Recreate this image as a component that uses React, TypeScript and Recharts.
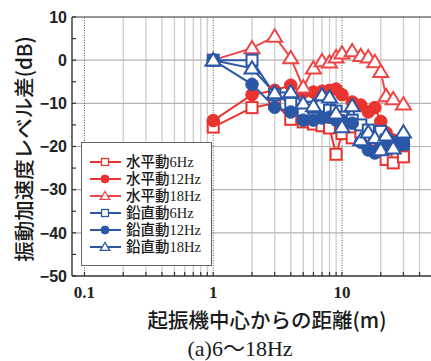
import { Legend, Line, LineChart, ReferenceLine, XAxis, YAxis } from "recharts";

// distance from the exciter centre (m)
const distances = [1, 2, 3, 4, 5, 6, 7, 8, 9, 10, 12, 14, 16, 18, 20, 22, 25, 30];

// level difference (dB), horizontal excitation
const horiz6 = [-15.5, -11, -10, -13.7, -14.3, -14.8, -15.2, -15.7, -21.8, -17, -18, -16.7, -17.5, -18.5, -20.5, -23, -23.8, -22.4];
const horiz12 = [-14, -8, -7, -5.8, -7.5, -7.4, -7.2, -7, -6.7, -8, -9.7, -10.4, -12, -11, -14.2, -16.8, -18.5, -19.5];
const horiz18 = [0, 2.8, 5.5, 0.5, -6.3, -1.9, -0.2, -0.5, 0.7, 1.6, 2.1, 1, 0.7, -0.4, -2.7, -8.3, -9, -10.2];

// level difference (dB), vertical excitation
const vert6 = [0, 0, -8, -10, -11.6, -10.9, -10.6, -11.6, -11.8, -13.2, -13.9, -15, -16.2, -17.8, -16.5, -18.5, -19, -19.5];
const vert12 = [0, -5.6, -10.9, -12, -13.9, -13.9, -13.4, -13.2, -13.9, -14, -14.6, -19, -20.8, -21.5, -20, -20, -19.2, -19.5];
const vert18 = [0, -1.9, -7.6, -7.4, -10, -10.6, -8.1, -8.6, -12.3, -15.5, -10.6, -18.5, -16.7, -18, -20.8, -17.4, -20.4, -16.7];

const yTicks = [-50, -45, -40, -35, -30, -25, -20, -15, -10, -5, 0, 5, 10];
const yGrid = [-40, -30, -20, -10, 0];
const xDecades = [0.1, 1, 10];
const xMinor = [0.2, 0.3, 0.4, 0.5, 0.6, 0.7, 0.8, 0.9, 2, 3, 4, 5, 6, 7, 8, 9, 20, 30, 40];

const RED = "#e8332f";
const BLUE = "#2b58a6";

const WIDTH = 440;
const HEIGHT = 361;
const PLOT_LEFT = 72;
const PLOT_TOP = 17;
const PLOT_BOTTOM = 276;

type Shape = "square" | "circle" | "triangle";

const series: { name: string; color: string; shape: Shape; values: number[] }[] = [
  { name: "水平動6Hz", color: RED, shape: "square", values: horiz6 },
  { name: "水平動12Hz", color: RED, shape: "circle", values: horiz12 },
  { name: "水平動18Hz", color: "#ee4646", shape: "triangle", values: horiz18 },
  { name: "鉛直動6Hz", color: BLUE, shape: "square", values: vert6 },
  { name: "鉛直動12Hz", color: BLUE, shape: "circle", values: vert12 },
  { name: "鉛直動18Hz", color: BLUE, shape: "triangle", values: vert18 }
];

function Marker({ cx, cy, shape, color, size }: { cx: number; cy: number; shape: Shape; color: string; size: number }) {
  if (shape === "circle") {
    return <circle cx={cx} cy={cy} r={size * 0.57} fill={color} stroke={color} strokeWidth={1} />;
  }
  if (shape === "square") {
    const h = size * 0.5;
    return <rect x={cx - h} y={cy - h} width={h * 2} height={h * 2} fill="#fff" stroke={color} strokeWidth={size > 8 ? 2 : 1.3} />;
  }
  const w = size * 0.68;
  return (
    <path
      d={`M${cx},${cy - w * 0.95} L${cx + w},${cy + w * 0.7} L${cx - w},${cy + w * 0.7} Z`}
      fill="#fff"
      stroke={color}
      strokeWidth={size > 8 ? 2 : 1.3}
      strokeLinejoin="miter"
    />
  );
}

function YTick({ y, payload }: any) {
  const v = payload.value as number;
  const major = v % 10 === 0;
  return (
    <g>
      <line x1={PLOT_LEFT} x2={PLOT_LEFT + 4} y1={y} y2={y} stroke="#333" strokeWidth={1.2} />
      {major && (
        <text
          x={PLOT_LEFT - 5}
          y={y}
          dy="0.36em"
          textAnchor="end"
          fontFamily="'Liberation Sans Narrow', 'Liberation Sans', sans-serif"
          fontWeight="bold"
          fontSize={16}
          fill="#222"
        >
          {v < 0 ? `−${Math.abs(v)}` : v}
        </text>
      )}
    </g>
  );
}

function XTick({ x, payload }: any) {
  const v = payload.value as number;
  const decade = xDecades.includes(v);
  return (
    <g>
      <line x1={x} x2={x} y1={PLOT_BOTTOM} y2={PLOT_BOTTOM - 4} stroke="#333" strokeWidth={1.2} />
      {decade && (
        <text
          x={x}
          y={PLOT_BOTTOM + 16}
          dy="0.36em"
          textAnchor="middle"
          fontFamily="'Liberation Serif', serif"
          fontWeight="bold"
          fontSize={17}
          fill="#222"
        >
          {v}
        </text>
      )}
    </g>
  );
}

// legend drawn in SVG so each row keeps to its own 17px band
function LegendBox() {
  return (
    <svg width={131} height={124} style={{ display: "block" }}>
      <rect x={0.5} y={0.5} width={130} height={123} fill="#fff" stroke="#666" />
      {series.map((s, i) => {
        const cy = 20 + i * 17;
        return (
          <g key={s.name}>
            <line x1={9} x2={40} y1={cy} y2={cy} stroke={s.color} strokeWidth={2} />
            <Marker cx={24} cy={cy} shape={s.shape} color={s.color} size={7} />
            <text
              x={45}
              y={cy}
              dy="0.35em"
              fontFamily="'Liberation Serif', 'Noto Sans CJK JP', serif"
              fontSize={14.5}
              fontWeight={500}
              fill="#1a1a1a"
            >
              {s.name}
            </text>
          </g>
        );
      })}
    </svg>
  );
}

export default function App() {
  return (
    <div
      style={{
        position: "fixed",
        left: 0,
        top: 0,
        width: 431,
        height: 361,
        overflow: "hidden",
        background: "#fff"
      }}
    >
      <LineChart width={WIDTH} height={HEIGHT} margin={{ top: PLOT_TOP, right: 8, left: 0, bottom: 0 }}>
        {xMinor.map((v) => (
          <ReferenceLine key={`mx${v}`} x={v} stroke="#cdcdcd" strokeWidth={1.3} />
        ))}
        {yGrid.map((v) => (
          <ReferenceLine key={`gy${v}`} y={v} stroke="#b4b4b4" strokeWidth={1.2} />
        ))}
        {xDecades.map((v) => (
          <ReferenceLine key={`dx${v}`} x={v} stroke="#555" strokeWidth={1} strokeDasharray="1 1.5" />
        ))}
        <ReferenceLine y={10} stroke="#333" strokeWidth={1.2} />
        <XAxis
          dataKey="d"
          type="number"
          scale="log"
          domain={[0.08, 50]}
          allowDataOverflow
          ticks={[...xDecades, ...xMinor]}
          interval={0}
          height={85}
          tickLine={false}
          axisLine={{ stroke: "#333", strokeWidth: 1.4 }}
          tick={<XTick />}
        />
        <YAxis
          type="number"
          domain={[-50, 10]}
          ticks={yTicks}
          interval={0}
          width={72}
          tickLine={false}
          axisLine={{ stroke: "#333", strokeWidth: 1.4 }}
          tick={<YTick />}
        />
        {series.map((s) => (
          <Line
            key={s.name}
            name={s.name}
            data={distances.map((d, i) => ({ d, v: s.values[i] }))}
            dataKey="v"
            type="linear"
            stroke={s.color}
            strokeWidth={2}
            isAnimationActive={false}
            dot={(p: any) => (
              <Marker key={`${s.name}-${p.index}`} cx={p.cx} cy={p.cy} shape={s.shape} color={s.color} size={11} />
            )}
            activeDot={false}
          />
        ))}
        <Legend
          layout="vertical"
          align="center"
          verticalAlign="middle"
          content={<LegendBox />}
          wrapperStyle={{ left: 81, top: 142, width: 131, height: 124 }}
        />
      </LineChart>
      <div
        style={{
          position: "absolute",
          left: 23,
          top: 149,
          transform: "translate(-50%, -50%) rotate(-90deg)",
          whiteSpace: "nowrap",
          fontFamily: "'Noto Sans CJK JP', sans-serif",
          fontSize: 20.5,
          fontWeight: 500,
          color: "#1a1a1a"
        }}
      >
        振動加速度レベル差(dB)
      </div>
      <div
        style={{
          position: "absolute",
          left: 267,
          top: 319,
          transform: "translate(-50%, -50%)",
          whiteSpace: "nowrap",
          fontFamily: "'Noto Sans CJK JP', sans-serif",
          fontSize: 20.5,
          fontWeight: 500,
          color: "#1a1a1a"
        }}
      >
        起振機中心からの距離(m)
      </div>
      <div
        style={{
          position: "absolute",
          left: 240,
          top: 346,
          transform: "translate(-50%, -50%)",
          whiteSpace: "nowrap",
          fontFamily: "'Liberation Serif', 'Noto Sans CJK JP', serif",
          fontSize: 22,
          color: "#1a1a1a"
        }}
      >
        (a)6〜18Hz
      </div>
    </div>
  );
}
